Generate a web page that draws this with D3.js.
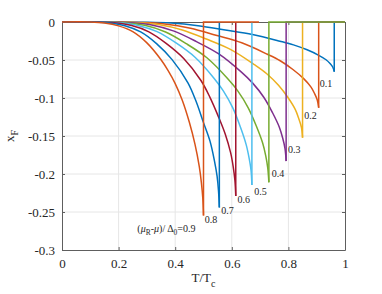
<!DOCTYPE html>
<html>
<head>
<meta charset="utf-8">
<script src="https://cdn.jsdelivr.net/npm/d3@7"></script>
<style>
    body { margin: 0; background: #fff; }
</style>
</head>
<body>
<div id="chart"></div>
<script>

// (mu_R - mu)/Delta_0 for each curve
const params = [0.1, 0.2, 0.3, 0.4, 0.5, 0.6, 0.7, 0.8, 0.9];
const colors = ['#0072BD', '#D95319', '#EDB120', '#7E2F8E', '#77AC30', '#4DBEEE', '#A2142F', '#0072BD', '#D95319'];

// [T/Tc, x_F]
const curve01 = [[0,0],[0.192,0],[0.289,-0.0003],[0.385,-0.0014],[0.481,-0.0049],[0.577,-0.0105],[0.673,-0.0164],[0.770,-0.0252],[0.818,-0.0301],[0.866,-0.0366],[0.904,-0.0432],[0.933,-0.0497],[0.948,-0.0549],[0.957,-0.0595],[0.962,-0.0654]];
const curve02 = [[0,0],[0.181,0],[0.272,-0.0006],[0.363,-0.0025],[0.454,-0.0081],[0.544,-0.0174],[0.635,-0.0274],[0.726,-0.0425],[0.771,-0.0510],[0.816,-0.0625],[0.853,-0.0742],[0.880,-0.0856],[0.893,-0.0946],[0.902,-0.1026],[0.907,-0.1128]];
const curve03 = [[0,0],[0.170,0],[0.255,-0.0008],[0.340,-0.0033],[0.425,-0.0105],[0.510,-0.0224],[0.595,-0.0360],[0.680,-0.0561],[0.7225,-0.0677],[0.765,-0.0833],[0.799,-0.0997],[0.8245,-0.1153],[0.837,-0.1275],[0.846,-0.1385],[0.850,-0.1522]];
const curve04 = [[0,0],[0.158,0],[0.238,-0.0009],[0.317,-0.0039],[0.396,-0.0120],[0.475,-0.0258],[0.554,-0.0420],[0.634,-0.0660],[0.673,-0.0801],[0.713,-0.0990],[0.744,-0.1194],[0.768,-0.1384],[0.780,-0.1530],[0.788,-0.1665],[0.792,-0.183]];
const curve05 = [[0,0],[0.146,0],[0.219,-0.0011],[0.292,-0.0044],[0.366,-0.0132],[0.439,-0.0285],[0.512,-0.0471],[0.585,-0.0744],[0.621,-0.0907],[0.658,-0.1129],[0.687,-0.1372],[0.709,-0.1593],[0.720,-0.1762],[0.727,-0.1920],[0.731,-0.211]];
const curve06 = [[0,0],[0.134,0],[0.201,-0.0011],[0.268,-0.0045],[0.336,-0.0127],[0.403,-0.0276],[0.470,-0.0464],[0.537,-0.0739],[0.570,-0.0906],[0.604,-0.1134],[0.631,-0.1389],[0.651,-0.1617],[0.661,-0.1788],[0.668,-0.1952],[0.671,-0.2145]];
const curve07 = [[0,0],[0.123,0],[0.184,-0.0011],[0.246,-0.0047],[0.307,-0.0129],[0.368,-0.0281],[0.430,-0.0480],[0.491,-0.0770],[0.522,-0.0985],[0.553,-0.1248],[0.577,-0.1477],[0.596,-0.1723],[0.605,-0.1906],[0.611,-0.2084],[0.614,-0.229]];
const curve08 = [[0,0],[0.111,0],[0.167,-0.0012],[0.222,-0.0049],[0.278,-0.0130],[0.334,-0.0284],[0.389,-0.0495],[0.445,-0.0801],[0.473,-0.1037],[0.500,-0.1324],[0.523,-0.1568],[0.539,-0.1833],[0.548,-0.2028],[0.553,-0.2220],[0.556,-0.244]];
const curve09 = [[0,0],[0.100,0],[0.150,-0.0013],[0.200,-0.0051],[0.250,-0.0127],[0.300,-0.0275],[0.350,-0.0497],[0.375,-0.0640],[0.400,-0.0810],[0.425,-0.1030],[0.450,-0.1320],[0.470,-0.1610],[0.485,-0.1900],[0.4925,-0.2113],[0.4975,-0.2317],[0.500,-0.2546]];
const curves = [curve01, curve02, curve03, curve04, curve05, curve06, curve07, curve08, curve09];

// after the jump back to zero, each curve runs along x_F = 0 up to this T/Tc
const zeroEnd = [1, 1, 1, 1, 1, 0.671, 0.614, 0.556, 0.696];

// label positions (baseline, in x_F units)
const labelY = [-0.085, -0.127, -0.173, -0.204, -0.228, -0.238, -0.253, -0.265, -0.276];

const xTicks = [0, 0.2, 0.4, 0.6, 0.8, 1];
const yTicks = [0, -0.05, -0.1, -0.15, -0.2, -0.25, -0.3];

const serif = '"Liberation Serif", "DejaVu Serif", serif';
const ink = '#262626';

let margin = {top: 22, right: 37, bottom: 44, left: 62};
let W = 382, H = 294;
let width = W - margin.left - margin.right;
let height = H - margin.top - margin.bottom;

let svg = d3.select('#chart').append('svg')
    .attr('width', W)
    .attr('height', H)
    .append('g')
    .attr('transform', `translate(${margin.left}, ${margin.top})`);

let x = d3.scaleLinear().domain([0, 1]).range([0, width]);
let y = d3.scaleLinear().domain([-0.3, 0]).range([height, 0]);

// grid
svg.append('g').selectAll('line').data(xTicks.slice(1, -1))
    .enter().append('line')
    .attr('x1', d => x(d)).attr('x2', d => x(d))
    .attr('y1', 0).attr('y2', height)
    .attr('stroke', '#e6e6e6');
svg.append('g').selectAll('line').data(yTicks.slice(1, -1))
    .enter().append('line')
    .attr('y1', d => y(d)).attr('y2', d => y(d))
    .attr('x1', 0).attr('x2', width)
    .attr('stroke', '#e6e6e6');

let fmt = d => String(+d.toFixed(2));

// axes with inward ticks, box all round
let axisGroups = [];
axisGroups.push(svg.append('g').attr('transform', `translate(0, ${height})`)
    .call(d3.axisBottom(x).tickValues(xTicks).tickFormat(fmt).tickSize(-3).tickSizeOuter(0).tickPadding(9)));
axisGroups.push(svg.append('g')
    .call(d3.axisLeft(y).tickValues(yTicks).tickFormat(fmt).tickSize(-3).tickSizeOuter(0).tickPadding(7)));
axisGroups.push(svg.append('g')
    .call(d3.axisTop(x).tickValues(xTicks).tickFormat('').tickSize(-3).tickSizeOuter(0)));
axisGroups.push(svg.append('g').attr('transform', `translate(${width}, 0)`)
    .call(d3.axisRight(y).tickValues(yTicks).tickFormat('').tickSize(-3).tickSizeOuter(0)));
axisGroups.forEach(g => {
    g.attr('font-family', serif).attr('font-size', 13);
    g.select('.domain').attr('stroke', '#5e5e5e');
    g.selectAll('.tick line').attr('stroke', '#5e5e5e');
    g.selectAll('.tick text').style('font-family', serif).style('font-size', '13px').attr('fill', ink);
});

let line = d3.line()
    .x(d => x(d[0]))
    .y(d => y(d[1]))
    .curve(d3.curveCatmullRom.alpha(0.5));

let jump = d3.line()
    .x(d => x(d[0]))
    .y(d => y(d[1]));

curves.forEach((c, i) => {
    let last = c[c.length - 1];
    svg.append('path')
        .attr('d', line(c))
        .attr('fill', 'none')
        .attr('stroke', colors[i])
        .attr('stroke-width', 1.5);
    svg.append('path')
        .attr('d', jump([last, [last[0], 0], [zeroEnd[i], 0]]))
        .attr('fill', 'none')
        .attr('stroke', colors[i])
        .attr('stroke-width', 1.5);
});

// curve labels
params.forEach((p, i) => {
    let last = curves[i][curves[i].length - 1];
    let t = svg.append('text')
        .style('font-family', serif)
        .style('font-size', '10px')
        .attr('fill', ink)
        .attr('x', x(last[0]) - (i === 8 ? 8 : 2))
        .attr('y', y(labelY[i]))
        .attr('text-anchor', 'end');
    if (i === 8) {
        t.append('tspan').text('(');
        t.append('tspan').attr('font-style', 'italic').text('\u03bc');
        t.append('tspan').attr('dy', 3).style('font-size', '7.5px').text('R');
        t.append('tspan').attr('dy', -3).text('-');
        t.append('tspan').attr('font-style', 'italic').text('\u03bc');
        t.append('tspan').text(')/ \u0394');
        t.append('tspan').attr('dy', 3).style('font-size', '7.5px').text('0');
        t.append('tspan').attr('dy', -3).text('=' + p);
    } else {
        t.text(p);
    }
});

// axis labels
let xl = svg.append('text')
    .style('font-family', serif)
    .style('font-size', '13px')
    .attr('fill', ink)
    .attr('x', width / 2)
    .attr('y', height + 32)
    .attr('text-anchor', 'middle');
xl.append('tspan').text('T/T');
xl.append('tspan').attr('dy', 5).style('font-size', '10px').text('c');

let yl = svg.append('text')
    .style('font-family', serif)
    .style('font-size', '13px')
    .attr('fill', ink)
    .attr('transform', `translate(${-48}, ${height / 2}) rotate(-90)`)
    .attr('text-anchor', 'middle');
yl.append('tspan').text('x');
yl.append('tspan').attr('dy', 4).style('font-size', '10px').text('F');

</script>
</body>
</html>
